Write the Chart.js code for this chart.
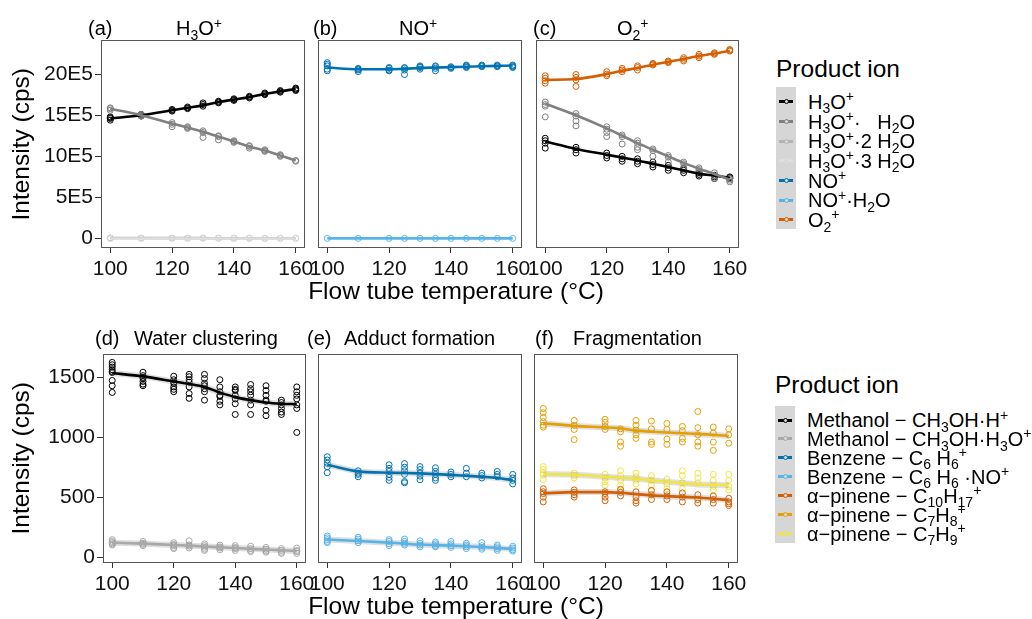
<!DOCTYPE html>
<html><head><meta charset="utf-8">
<script src="https://cdn.jsdelivr.net/npm/chart.js@4/dist/chart.umd.min.js"></script>
<style>
html,body{margin:0;padding:0;background:#fff;}
#root{position:relative;width:1032px;height:619px;overflow:hidden;font-family:'Liberation Sans',Arial,sans-serif;color:#000;}
canvas{position:absolute;}
.t{position:absolute;white-space:nowrap;line-height:1;}
sub,sup{font-size:70%;line-height:0;position:relative;vertical-align:baseline;}
sub{top:0.32em;} sup{top:-0.55em;}
.key{position:absolute;background:#d6d6d6;}
.kl{position:absolute;height:3px;}
.kc{position:absolute;width:3px;height:3px;border-radius:50%;border:1px solid;background:#d6d6d6;}
</style></head><body><div id="root"></div>
<script>
// ---------- categories / ticks ----------
const temps = [100,110,120,125,130,135,140,145,150,155,160];
const xTicks = [100,120,140,160];
const yTicksTop = [0,5e5,10e5,15e5,20e5];
const yLabelsTop = ['0','5E5','10E5','15E5','20E5'];
const yTicksBottom = [0,500,1000,1500];
const yLabelsBottom = ['0','500','1000','1500'];
const panelTags = ['(a)','(b)','(c)','(d)','(e)','(f)'];
const panelTitles = ['H<sub>3</sub>O<sup>+</sup>','NO<sup>+</sup>','O<sub>2</sub><sup>+</sup>','Water clustering','Adduct formation','Fragmentation'];
const legend1Labels = ['H<sub>3</sub>O<sup>+</sup>','H<sub>3</sub>O<sup>+</sup>·&nbsp;&nbsp;&nbsp;H<sub>2</sub>O','H<sub>3</sub>O<sup>+</sup>·2 H<sub>2</sub>O','H<sub>3</sub>O<sup>+</sup>·3 H<sub>2</sub>O','NO<sup>+</sup>','NO<sup>+</sup>·H<sub>2</sub>O','O<sub>2</sub><sup>+</sup>'];
const legend2Labels = ['Methanol − CH<sub>3</sub>OH·H<sup>+</sup>','Methanol − CH<sub>3</sub>OH·H<sub>3</sub>O<sup>+</sup>','Benzene − C<sub>6</sub> H<sub>6</sub><sup>+</sup>','Benzene − C<sub>6</sub> H<sub>6</sub> ·NO<sup>+</sup>','α−pinene − C<sub>10</sub>H<sub>17</sub><sup>+</sup>','α−pinene − C<sub>7</sub>H<sub>8</sub><sup>+</sup>','α−pinene − C<sub>7</sub>H<sub>9</sub><sup>+</sup>'];

// ---------- (a) H3O+ reagent ----------
const a_h3o_fit = [14.6e5,15.0e5,15.6e5,15.9e5,16.2e5,16.6e5,16.9e5,17.2e5,17.6e5,17.9e5,18.2e5];
const a_h3o_obs = [[14.4e5,14.6e5,14.8e5,14.7e5],[14.9e5,15.0e5,15.1e5],[15.5e5,15.6e5,15.7e5],[15.8e5,15.9e5,16.0e5],[16.1e5,16.3e5,16.5e5],[16.5e5,16.6e5,16.7e5],[16.8e5,16.9e5,17.0e5],[17.1e5,17.2e5,17.3e5],[17.5e5,17.6e5,17.7e5],[17.8e5,17.9e5,18.0e5],[18.0e5,18.1e5,18.2e5,18.3e5]];
const a_w1_fit = [15.8e5,15.0e5,14.0e5,13.5e5,13.0e5,12.4e5,11.8e5,11.2e5,10.7e5,10.1e5,9.5e5];
const a_w1_obs = [[15.6e5,15.8e5,15.9e5],[14.9e5,15.0e5,15.1e5],[13.6e5,13.9e5,14.1e5],[13.4e5,13.5e5,13.6e5],[12.3e5,12.9e5,13.1e5],[12.0e5,12.4e5,12.5e5],[11.7e5,11.8e5,11.9e5],[11.0e5,11.2e5,11.3e5],[10.6e5,10.7e5,10.8e5],[10.0e5,10.1e5,10.2e5],[9.4e5,9.5e5]];
const a_w2_fit = [0.06e5,0.06e5,0.05e5,0.05e5,0.05e5,0.04e5,0.04e5,0.04e5,0.03e5,0.03e5,0.03e5];
const a_w2_obs = [[0.05e5,0.07e5],[0.06e5],[0.05e5],[0.05e5],[0.05e5],[0.04e5],[0.04e5],[0.04e5],[0.03e5],[0.03e5],[0.03e5]];
const a_w3_fit = [0.01e5,0.01e5,0.01e5,0.01e5,0.01e5,0.01e5,0.01e5,0.01e5,0.01e5,0.01e5,0.01e5];
const a_w3_obs = [[0.01e5],[0.01e5],[0.01e5],[0.01e5],[0.01e5],[0.01e5],[0.01e5],[0.01e5],[0.01e5],[0.01e5],[0.01e5]];
// ---------- (b) NO+ reagent ----------
const b_no_fit = [20.8e5,20.6e5,20.6e5,20.65e5,20.75e5,20.8e5,20.85e5,20.9e5,20.95e5,21.0e5,21.05e5];
const b_no_obs = [[21.4e5,21.2e5,21.0e5,20.6e5,20.4e5],[20.3e5,20.5e5,20.7e5,20.6e5],[20.4e5,20.5e5,20.7e5,20.8e5],[19.95e5,20.5e5,20.7e5,20.8e5],[20.6e5,20.8e5,20.9e5,21.0e5],[20.4e5,20.7e5,20.9e5,21.0e5],[20.7e5,20.8e5,20.9e5],[20.8e5,20.9e5,21.0e5,21.1e5],[20.9e5,21.0e5,21.1e5],[20.9e5,21.0e5,21.1e5],[20.8e5,20.9e5,21.0e5,21.1e5]];
const b_noh2o_fit = [0.02e5,0.02e5,0.02e5,0.02e5,0.02e5,0.02e5,0.02e5,0.02e5,0.02e5,0.02e5,0.02e5];
const b_noh2o_obs = [[0.02e5],[0.02e5],[0.02e5],[0.02e5],[0.02e5],[0.02e5],[0.02e5],[0.02e5],[0.02e5],[0.02e5],[0.02e5]];
// ---------- (c) O2+ reagent ----------
const c_o2_fit = [19.3e5,19.4e5,20.0e5,20.4e5,20.75e5,21.15e5,21.5e5,21.85e5,22.2e5,22.5e5,22.85e5];
const c_o2_obs = [[19.8e5,19.5e5,19.2e5,18.9e5],[19.95e5,19.6e5,19.3e5,18.5e5],[20.3e5,20.0e5,19.8e5],[20.7e5,20.5e5,20.3e5],[21.0e5,20.8e5,20.5e5],[21.3e5,21.2e5,21.1e5],[21.6e5,21.5e5,21.4e5],[22.0e5,21.8e5,21.6e5],[22.4e5,22.2e5,22.0e5],[22.6e5,22.5e5,22.4e5],[23.0e5,22.9e5,22.8e5]];
const c_w1_fit = [16.4e5,15.0e5,13.4e5,12.5e5,11.6e5,10.8e5,10.0e5,9.2e5,8.5e5,7.85e5,7.15e5];
const c_w1_obs = [[16.6e5,16.3e5,16.1e5,14.8e5],[15.2e5,14.9e5,14.3e5,13.7e5],[13.6e5,13.3e5,12.9e5,12.4e5],[12.6e5,12.4e5,11.5e5],[11.9e5,11.6e5,11.1e5,10.8e5],[10.9e5,10.7e5,10.0e5],[10.1e5,9.9e5,9.3e5],[9.3e5,9.1e5,8.6e5],[8.6e5,8.4e5,8.2e5],[8.0e5,7.6e5,7.3e5],[7.3e5,7.1e5,6.9e5]];
const c_h3o_fit = [11.8e5,10.9e5,10.2e5,9.85e5,9.5e5,9.1e5,8.7e5,8.3e5,7.9e5,7.65e5,7.4e5];
const c_h3o_obs = [[12.2e5,11.9e5,11.6e5,11.0e5],[11.1e5,10.8e5,10.4e5],[10.4e5,10.1e5,9.8e5],[10.0e5,9.7e5,9.4e5],[9.7e5,9.4e5,9.1e5],[9.3e5,9.0e5,8.7e5],[8.9e5,8.6e5,8.3e5],[8.5e5,8.3e5,8.0e5],[8.0e5,7.8e5,7.6e5],[7.7e5,7.5e5,7.3e5],[7.5e5,7.4e5,7.3e5]];
// ---------- (d) water clustering ----------
const d_meoh_fit = [1536,1508,1466,1445,1419,1374,1335,1310,1290,1280,1276];
const d_meoh_obs = [[1625,1605,1586,1564,1549,1540,1474,1430,1374],[1543,1514,1500,1491,1466,1443,1430],[1510,1480,1460,1450,1420,1400,1380],[1525,1505,1480,1460,1420,1365,1325],[1525,1490,1450,1430,1405,1380,1310],[1480,1420,1380,1350,1340,1300,1270],[1420,1400,1390,1350,1320,1280,1190],[1440,1405,1380,1350,1310,1270,1190],[1430,1390,1350,1310,1300,1225,1180],[1310,1290,1270,1240,1210,1190],[1420,1380,1350,1320,1270,1240,1040]];
const d_meohw_fit = [120,112,100,95,88,82,75,68,62,56,50];
const d_meohw_obs = [[145,130,120,110,100],[130,115,105,95],[120,105,95,80,70],[135,100,90,75],[110,95,80,65,55],[100,85,75,60],[95,80,70,55],[90,70,55,45],[80,65,50,40],[70,55,40,30],[75,55,45,30]];
// ---------- (e) adduct formation ----------
const e_bz_fit = [770,715,704,702,698,692,686,678,670,660,642];
const e_bz_obs = [[837,810,782,754,704],[720,700,690,670],[770,740,715,690,665,640],[780,750,720,690,630,620],[755,730,700,675,645],[745,715,690,660,640],[710,690,670],[740,700,670],[700,680,660],[715,690,670],[690,660,640,610]];
const e_bzno_fit = [146,134,120,112,104,99,95,90,84,76,67];
const e_bzno_obs = [[175,160,145,130,120],[165,150,135,120],[145,130,110,95],[150,130,115,100],[135,115,100,85],[125,110,95,85],[130,110,95,80],[115,100,85,70],[120,95,80,65],[100,85,70,55],[90,75,60,50]];
// ---------- (f) fragmentation ----------
const f_c7h8_fit = [1117,1095,1083,1075,1055,1047,1039,1033,1028,1020,1011];
const f_c7h8_obs = [[1240,1205,1165,1130,1100,1085],[1140,1100,1065,980],[1150,1125,1090,1065],[1070,1045,960,925],[1140,1100,1060,1020,990],[1135,1070,960,940],[1115,1065,985,940],[1090,1055,990,960],[1215,1080,1020,960,925],[1085,1035,960,890],[1070,1020,950]];
const f_c7h9_fit = [692,687,670,662,654,640,628,617,606,603,600];
const f_c7h9_obs = [[755,730,700,685,645],[700,680,660],[690,660,630,600],[720,680,640,600,560],[700,670,640,610],[680,640,600,560],[650,610,570],[720,680,620,570],[700,660,620],[690,640,590,560],[690,640,590,560]];
const f_c10_fit = [531,542,542,536,525,515,508,502,497,487,475];
const f_c10_obs = [[570,545,530,500,460],[560,540,520,500],[545,530,500,470],[565,540,510],[545,500,470,450],[555,520,480],[545,510,480],[535,500,460],[520,480,450],[510,480,450],[490,460,445,430]];

// ---------- colours ----------
const legend1Colors = ['#000000','#808080','#b3b3b3','#dedede','#0072B2','#56B4E9','#D55E00'];
const legend2Colors = ['#000000','#a8a8a8','#0072B2','#56B4E9','#D55E00','#E69F00','#F0E442'];

// ---------- helpers ----------
const FONT = "'Liberation Sans', Arial, sans-serif";
const root = document.getElementById('root');
function obsPts(obs){const p=[];obs.forEach((vals,i)=>vals.forEach(v=>p.push({x:temps[i],y:v})));return p;}
function fitPts(fit){return fit.map((v,i)=>({x:temps[i],y:v}));}
function series(obs, fit, color, band){
  const ds=[{data:obsPts(obs),showLine:false,pointRadius:3,pointBorderWidth:1,borderColor:color,backgroundColor:'rgba(0,0,0,0)',pointBackgroundColor:'rgba(0,0,0,0)',order:3}];
  if(band) ds.push({data:fitPts(fit),showLine:true,pointRadius:0,borderColor:'rgba(140,140,140,0.28)',borderWidth:6,cubicInterpolationMode:'monotone',order:1});
  ds.push({data:fitPts(fit),showLine:true,pointRadius:0,borderColor:color,borderWidth:2.6,cubicInterpolationMode:'monotone',order:0});
  return ds;
}
const frame={id:'frame',afterDraw(c){const a=c.chartArea,x=c.ctx;x.save();x.strokeStyle='#555';x.lineWidth=1;
  x.strokeRect(Math.round(a.left)+0.5,Math.round(a.top)+0.5,Math.round(a.right-a.left)-1,Math.round(a.bottom-a.top)-1);x.restore();}};

const C = legend1Colors, D = legend2Colors;
const panels = [
 {box:[101,40,305,248], yAxis:true, yr:[-1.15e5,24.15e5], yt:yTicksTop, yl:yLabelsTop,
  ds:[...series(a_w3_obs,a_w3_fit,C[3]),...series(a_w2_obs,a_w2_fit,C[2]),...series(a_w1_obs,a_w1_fit,C[1]),...series(a_h3o_obs,a_h3o_fit,C[0])]},
 {box:[318,40,522,248], yAxis:false, yr:[-1.15e5,24.15e5],
  ds:[...series(b_noh2o_obs,b_noh2o_fit,C[5]),...series(b_no_obs,b_no_fit,C[4])]},
 {box:[536,40,739,248], yAxis:false, yr:[-1.15e5,24.15e5],
  ds:[...series(c_w1_obs,c_w1_fit,C[1]),...series(c_h3o_obs,c_h3o_fit,C[0]),...series(c_o2_obs,c_o2_fit,C[6])]},
 {box:[103,354,306,563], yAxis:true, yr:[-50,1695], yt:yTicksBottom, yl:yLabelsBottom,
  ds:[...series(d_meohw_obs,d_meohw_fit,D[1],true),...series(d_meoh_obs,d_meoh_fit,D[0],true)]},
 {box:[318,354,522,563], yAxis:false, yr:[-50,1695],
  ds:[...series(e_bzno_obs,e_bzno_fit,D[3],true),...series(e_bz_obs,e_bz_fit,D[2],true)]},
 {box:[534,354,738,563], yAxis:false, yr:[-50,1695],
  ds:[...series(f_c10_obs,f_c10_fit,D[4],true),...series(f_c7h9_obs,f_c7h9_fit,D[6],true),...series(f_c7h8_obs,f_c7h8_fit,D[5],true)]}
];

panels.forEach(p=>{
  const [L,T,R,B]=p.box;
  const PL=20,PR=26,PT=16,PB=4,XH=42,WY=p.yAxis?64:0;
  const w=(R-L)+PL+PR+WY, h=(B-T)+PT+XH+PB;
  const cv=document.createElement('canvas');
  cv.width=w;cv.height=h;cv.style.width=w+'px';cv.style.height=h+'px';
  cv.style.left=(L-PL-WY)+'px';cv.style.top=(T-PT)+'px';
  root.appendChild(cv);
  const yScale = p.yAxis ? {
      type:'linear',min:p.yr[0],max:p.yr[1],
      afterBuildTicks:s=>{s.ticks=p.yt.map(v=>({value:v}));},
      afterFit:s=>{s.width=WY;},
      grid:{display:true,drawOnChartArea:false,drawTicks:true,tickLength:6,tickColor:'#333',tickWidth:1},
      border:{display:false},
      ticks:{callback:(v,i)=>p.yl[i],font:{family:FONT,size:21},color:'#111',padding:2}
    } : {type:'linear',min:p.yr[0],max:p.yr[1],display:false};
  new Chart(cv,{type:'scatter',data:{datasets:p.ds},
    options:{responsive:false,animation:false,devicePixelRatio:1,
      layout:{padding:{left:PL,right:PR,top:PT,bottom:PB}},
      plugins:{legend:{display:false},tooltip:{enabled:false}},
      scales:{
        x:{type:'linear',min:97,max:163,
          afterBuildTicks:s=>{s.ticks=xTicks.map(v=>({value:v}));},
          afterFit:s=>{s.height=XH;},
          grid:{display:true,drawOnChartArea:false,drawTicks:true,tickLength:5,tickColor:'#333',tickWidth:1},
          border:{display:false},
          ticks:{font:{family:FONT,size:21},color:'#111',padding:4,maxRotation:0,autoSkip:false}},
        y:yScale}},
    plugins:[frame]});
});

// ---------- text ----------
function addText(html,left,capY,size,extra){const d=document.createElement('div');d.className='t';d.innerHTML=html;
  d.style.left=left+'px';d.style.top=(capY-0.49*size)+'px';d.style.fontSize=size+'px';if(extra)Object.assign(d.style,extra);root.appendChild(d);return d;}
const tagPos=[[88,28],[313,28],[533,28],[95,338],[307,338],[535,338]];
const titlePos=[[176,28],[399,28],[617,28],[134,338],[344,338],[573,338]];
panelTags.forEach((t,i)=>addText(t,tagPos[i][0],tagPos[i][1],20));
panelTitles.forEach((t,i)=>addText(t,titlePos[i][0],titlePos[i][1],20));
// axis titles
[291,606].forEach(y=>addText('Flow tube temperature (°C)',456-300,y,24.5,{width:'600px',textAlign:'center'}));
[144,458].forEach(y=>addText('Intensity (cps)',21-120,y,24.5,{width:'240px',textAlign:'center',transform:'rotate(-90deg)'}));

// ---------- legends ----------
function legend(title,labels,colors,x0,titleY,keyTop,keyBottom,row0,step,textX){
  addText(title,x0,titleY,24.5);
  const k=document.createElement('div');k.className='key';
  k.style.left=x0+'px';k.style.top=keyTop+'px';k.style.width='20px';k.style.height=(keyBottom-keyTop)+'px';root.appendChild(k);
  labels.forEach((lab,i)=>{
    const cy=row0+i*step;
    const l=document.createElement('div');l.className='kl';l.style.background=colors[i];
    l.style.left=(x0+3)+'px';l.style.width='14px';l.style.top=(cy-1.5)+'px';root.appendChild(l);
    const c=document.createElement('div');c.className='kc';c.style.borderColor=colors[i];
    c.style.left=(x0+8)+'px';c.style.top=(cy-2.5)+'px';root.appendChild(c);
    addText(lab,textX,cy,20);
  });
}
legend('Product ion',legend1Labels,legend1Colors,776,69.5,87,229,101.7,19.7,808);
legend('Product ion',legend2Labels,legend2Colors,775,385,406,543,420,18.9,807);
</script></body></html>
